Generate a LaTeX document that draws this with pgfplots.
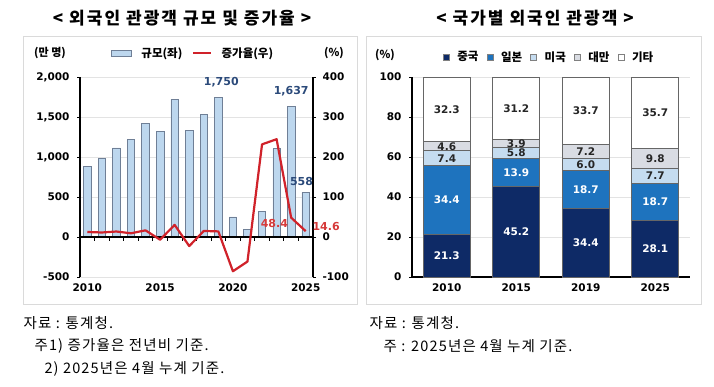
\documentclass[border=0pt]{standalone}
\usepackage{fontspec}
\usepackage{pgfplots}
\pgfplotsset{compat=1.18}
\setmainfont{Noto Sans CJK KR}
\newfontfamily\numfont{DejaVu Sans}
\newfontfamily\titlefont[LetterSpace=12]{Noto Sans CJK KR}
\newfontfamily\notefont[LetterSpace=8]{Noto Sans CJK KR}
\definecolor{barblue}{HTML}{BDD7EE}
\definecolor{baredge}{HTML}{6F7F96}
\definecolor{linered}{HTML}{D0222A}
\definecolor{cnavy}{HTML}{0E2A66}
\definecolor{cmid}{HTML}{1E73BE}
\definecolor{clight}{HTML}{C5DCF0}
\definecolor{cgray}{HTML}{D9DCE3}
\definecolor{labnavy}{HTML}{2B4A7A}
\definecolor{labred}{HTML}{D63A3A}
\definecolor{gridgray}{HTML}{E3E3E3}
\definecolor{framegray}{HTML}{DADADA}
\pgfplotsset{
  numstyle/.style={font=\numfont\bfseries\fontsize{10.5}{12}\selectfont},
}
\begin{document}
\begin{tikzpicture}
\useasboundingbox (0,0) rectangle (714pt,386pt);
% panel frames
\draw[framegray, line width=0.8pt] (23pt,82pt) rectangle (357pt,350pt);
\draw[framegray, line width=0.8pt] (366pt,82pt) rectangle (701pt,350pt);
% titles
\node[font=\titlefont\bfseries\fontsize{17}{19}\selectfont] at (182pt,368pt) {< 외국인 관광객 규모 및 증가율 >};
\node[font=\titlefont\bfseries\fontsize{17}{19}\selectfont] at (535pt,368pt) {< 국가별 외국인 관광객 >};
% unit labels
\node[font=\bfseries\fontsize{11}{13}\selectfont] at (50pt,333pt) {(만 명)};
\node[font=\bfseries\fontsize{11}{13}\selectfont] at (334pt,333pt) {(\%)};
\node[font=\bfseries\fontsize{11}{13}\selectfont] at (385pt,331pt) {(\%)};
% footnotes
\node[anchor=west, font=\notefont\fontsize{14.5}{16}\selectfont] at (20pt,63pt) {자료 : 통계청.};
\node[anchor=west, font=\notefont\fontsize{14.5}{16}\selectfont] at (31pt,40pt) {주1) 증가율은 전년비 기준.};
\node[anchor=west, font=\notefont\fontsize{14.5}{16}\selectfont] at (41pt,17pt) {2) 2025년은 4월 누계 기준.};
\node[anchor=west, font=\notefont\fontsize{14.5}{16}\selectfont] at (366pt,63pt) {자료 : 통계청.};
\node[anchor=west, font=\notefont\fontsize{14.5}{16}\selectfont] at (380pt,40pt) {주 : 2025년은 4월 누계 기준.};

% ---------- left chart: bars ----------
\begin{axis}[
  at={(80pt,109pt)}, anchor=south west, scale only axis,
  width=233pt, height=200pt,
  xmin=2009.5, xmax=2025.5, ymin=-500, ymax=2000,
  xtick={2010,2015,2020,2025},
  ytick={-500,0,500,1000,1500,2000},
  /pgf/number format/assume math mode=true,
  xticklabel style={/pgf/number format/1000 sep={}},
  yticklabel style={/pgf/number format/1000 sep={,}, xshift=-4pt},
  tick label style={numstyle},
  axis x line*=bottom, axis y line*=left,
  x axis line style={draw=none},
  y axis line style={black, line width=1.2pt},
  major x tick style={draw=none},
  ytick style={black, line width=0.8pt},
  tick align=outside, major tick length=3pt,
  ymajorgrids, grid style={gridgray, line width=0.6pt},
  clip=false,
  legend style={at={(0.485,1.12)}, anchor=center, draw=none, fill=none,
    font=\bfseries\fontsize{11.5}{13}\selectfont, column sep=8pt,
    legend cell align=left},
  legend columns=2,
]
\addplot[ybar, bar width=7.5pt, fill=barblue, draw=baredge, line width=0.6pt,
  legend image code/.code={\draw[fill=barblue, draw=baredge, line width=0.6pt] (0pt,-3pt) rectangle (20pt,3pt);}]
  coordinates {(2010,880) (2011,980) (2012,1114) (2013,1218) (2014,1420) (2015,1323)
   (2016,1724) (2017,1334) (2018,1535) (2019,1750) (2020,252) (2021,97)
   (2022,320) (2023,1103) (2024,1637) (2025,558)};
\addlegendentry{규모(좌)}
\addlegendimage{linered, line width=2.2pt}
\addlegendentry{증가율(우)}
\addplot[black, line width=1.2pt, forget plot] coordinates {(2009.5,0) (2025.5,0)};
\addplot[black, ycomb, line width=0.8pt, forget plot, mark=none] coordinates {
  (2010.5,-45) (2011.5,-45) (2012.5,-45) (2013.5,-45) (2014.5,-45) (2015.5,-45)
  (2016.5,-45) (2017.5,-45) (2018.5,-45) (2019.5,-45) (2020.5,-45) (2021.5,-45)
  (2022.5,-45) (2023.5,-45) (2024.5,-45)};
\addplot[draw=none, mark=none, forget plot, nodes near coords, point meta=explicit symbolic,
  every node near coord/.style={anchor=center, text=labnavy, font=\numfont\bfseries\fontsize{11}{13}\selectfont}]
  coordinates {(2019.2,1937) [1,750] (2024,1825) [1,637] (2024.71,691) [558]};
\end{axis}

% ---------- left chart: growth line ----------
\begin{axis}[
  at={(80pt,109pt)}, anchor=south west, scale only axis,
  width=233pt, height=200pt,
  xmin=2009.5, xmax=2025.5, ymin=-100, ymax=400,
  ytick={-100,0,100,200,300,400},
  /pgf/number format/assume math mode=true,
  tick label style={numstyle},
  yticklabel style={xshift=3pt},
  axis x line=none, axis y line*=right,
  y axis line style={black, line width=1.2pt},
  ytick style={black, line width=0.8pt},
  tick align=outside, major tick length=3pt,
  clip=false,
]
\addplot[linered, line width=2.2pt, mark=none, line join=round] coordinates {
  (2010,12.5) (2011,11.3) (2012,13.7) (2013,9.3) (2014,16.6) (2015,-6.8)
  (2016,30.3) (2017,-22.7) (2018,15.1) (2019,14.0) (2020,-85.6) (2021,-61.4)
  (2022,231.6) (2023,244.5) (2024,48.4) (2025,14.6)};
\addplot[draw=none, mark=none, nodes near coords, point meta=explicit symbolic,
  every node near coord/.style={anchor=center, text=labred, font=\numfont\bfseries\fontsize{11}{13}\selectfont}]
  coordinates {(2022.85,35) [48.4] (2026.4,25) [14.6]};
\end{axis}

% ---------- right chart: stacked bars ----------
\begin{axis}[
  at={(412pt,109pt)}, anchor=south west, scale only axis,
  width=278pt, height=200pt,
  ybar stacked, bar width=47pt,
  xmin=-0.5, xmax=3.5, ymin=0, ymax=100,
  xtick={0,1,2,3}, xticklabels={2010,2015,2019,2025},
  extra x ticks={0.5,1.5,2.5,3.5}, extra x tick labels={},
  extra x tick style={major tick length=4pt, tick style={black, line width=0.8pt}},
  major x tick style={draw=none},
  ytick={0,20,40,60,80,100},
  /pgf/number format/assume math mode=true,
  tick label style={numstyle},
  yticklabel style={xshift=-4pt},
  axis x line*=bottom, axis y line*=left,
  axis line style={black, line width=1.2pt},
  ytick style={black, line width=0.8pt},
  tick align=outside, major tick length=3pt,
  ymajorgrids, grid style={gridgray, line width=0.6pt},
  legend style={at={(0.493,1.10)}, anchor=center, draw=none, fill=none,
    font=\bfseries\fontsize{11.5}{13}\selectfont, column sep=6pt},
  legend columns=5,
  legend image code/.code={\draw[#1, draw=gray, line width=0.5pt] (0pt,-3pt) rectangle (6pt,3pt);},
]
\addplot[fill=cnavy, draw=gray!80!black, line width=0.7pt] coordinates {(0,21.3) (1,45.2) (2,34.4) (3,28.1)};
\addlegendentry{중국}
\addplot[fill=cmid, draw=gray!80!black, line width=0.7pt] coordinates {(0,34.4) (1,13.9) (2,18.7) (3,18.7)};
\addlegendentry{일본}
\addplot[fill=clight, draw=gray!80!black, line width=0.7pt] coordinates {(0,7.4) (1,5.8) (2,6.0) (3,7.7)};
\addlegendentry{미국}
\addplot[fill=cgray, draw=gray!80!black, line width=0.7pt] coordinates {(0,4.6) (1,3.9) (2,7.2) (3,9.8)};
\addlegendentry{대만}
\addplot[fill=white, draw=gray!80!black, line width=0.7pt] coordinates {(0,32.3) (1,31.2) (2,33.7) (3,35.7)};
\addlegendentry{기타}
\end{axis}

% ---------- right chart: labels ----------
\begin{axis}[
  at={(412pt,109pt)}, anchor=south west, scale only axis,
  width=278pt, height=200pt,
  xmin=-0.5, xmax=3.5, ymin=0, ymax=100,
  hide axis, clip=false,
]
\addplot[draw=none, mark=none, nodes near coords, point meta=explicit symbolic,
  every node near coord/.style={anchor=center, text=white, font=\numfont\bfseries\fontsize{10.5}{12}\selectfont}]
  coordinates {(0,10.65) [21.3] (1,22.6) [45.2] (2,17.2) [34.4] (3,14.05) [28.1]
   (0,38.5) [34.4] (1,52.15) [13.9] (2,43.75) [18.7] (3,37.45) [18.7]};
\addplot[draw=none, mark=none, nodes near coords, point meta=explicit symbolic,
  every node near coord/.style={anchor=center, text=black!85, font=\numfont\bfseries\fontsize{10.5}{12}\selectfont}]
  coordinates {(0,59.4) [7.4] (1,62.0) [5.8] (2,56.1) [6.0] (3,50.65) [7.7]
   (0,65.4) [4.6] (1,66.85) [3.9] (2,62.7) [7.2] (3,59.4) [9.8]
   (0,83.85) [32.3] (1,84.4) [31.2] (2,83.15) [33.7] (3,82.15) [35.7]};
\end{axis}
\end{tikzpicture}
\end{document}
